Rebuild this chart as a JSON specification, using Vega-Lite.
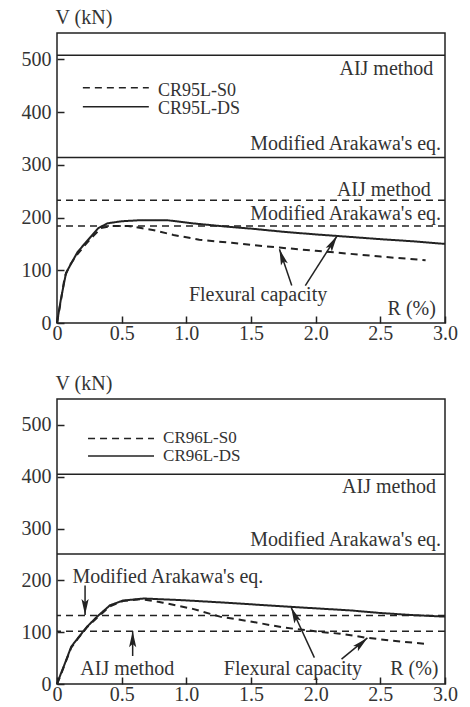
{
  "$schema": "https://vega.github.io/schema/vega-lite/v6.json",
  "background": "white",
  "padding": {"left": 20, "top": 6, "right": 5, "bottom": 2},
  "spacing": 28,
  "datasets": {
    "c1": [
      {"series":"DS","R":0,"V":0},{"series":"DS","R":0.03,"V":45},{"series":"DS","R":0.07,"V":95},{"series":"DS","R":0.11,"V":113},{"series":"DS","R":0.16,"V":135},{"series":"DS","R":0.22,"V":152},{"series":"DS","R":0.27,"V":166},{"series":"DS","R":0.32,"V":180},{"series":"DS","R":0.39,"V":189},{"series":"DS","R":0.5,"V":193},{"series":"DS","R":0.65,"V":195},{"series":"DS","R":0.85,"V":195},{"series":"DS","R":1.05,"V":189},{"series":"DS","R":1.3,"V":183},{"series":"DS","R":1.5,"V":179},{"series":"DS","R":1.75,"V":173},{"series":"DS","R":2.0,"V":168},{"series":"DS","R":2.17,"V":165},{"series":"DS","R":2.5,"V":159},{"series":"DS","R":2.75,"V":155},{"series":"DS","R":3.0,"V":150},
      {"series":"S0","R":0,"V":0},{"series":"S0","R":0.03,"V":42},{"series":"S0","R":0.06,"V":88},{"series":"S0","R":0.1,"V":110},{"series":"S0","R":0.15,"V":128},{"series":"S0","R":0.21,"V":146},{"series":"S0","R":0.28,"V":165},{"series":"S0","R":0.34,"V":180},{"series":"S0","R":0.42,"V":184},{"series":"S0","R":0.55,"V":184},{"series":"S0","R":0.65,"V":180},{"series":"S0","R":0.75,"V":176},{"series":"S0","R":0.9,"V":167},{"series":"S0","R":1.1,"V":158},{"series":"S0","R":1.35,"V":152},{"series":"S0","R":1.5,"V":148},{"series":"S0","R":1.72,"V":143},{"series":"S0","R":2.0,"V":137},{"series":"S0","R":2.14,"V":134},{"series":"S0","R":2.5,"V":126},{"series":"S0","R":2.85,"V":119}
    ],
    "c2": [
      {"series":"DS","R":0,"V":0},{"series":"DS","R":0.03,"V":20},{"series":"DS","R":0.06,"V":39},{"series":"DS","R":0.11,"V":72},{"series":"DS","R":0.16,"V":88},{"series":"DS","R":0.23,"V":110},{"series":"DS","R":0.31,"V":130},{"series":"DS","R":0.41,"V":152},{"series":"DS","R":0.51,"V":161},{"series":"DS","R":0.67,"V":165},{"series":"DS","R":0.95,"V":162},{"series":"DS","R":1.3,"V":157},{"series":"DS","R":1.55,"V":153},{"series":"DS","R":1.8,"V":149},{"series":"DS","R":2.0,"V":146},{"series":"DS","R":2.27,"V":142},{"series":"DS","R":2.5,"V":137},{"series":"DS","R":2.75,"V":133},{"series":"DS","R":3.0,"V":130},
      {"series":"S0","R":0,"V":0},{"series":"S0","R":0.03,"V":18},{"series":"S0","R":0.06,"V":38},{"series":"S0","R":0.11,"V":70},{"series":"S0","R":0.16,"V":87},{"series":"S0","R":0.23,"V":109},{"series":"S0","R":0.31,"V":128},{"series":"S0","R":0.41,"V":150},{"series":"S0","R":0.51,"V":160},{"series":"S0","R":0.65,"V":164},{"series":"S0","R":0.82,"V":157},{"series":"S0","R":1.05,"V":145},{"series":"S0","R":1.26,"V":130},{"series":"S0","R":1.49,"V":121},{"series":"S0","R":1.75,"V":109},{"series":"S0","R":2.06,"V":100},{"series":"S0","R":2.19,"V":97},{"series":"S0","R":2.4,"V":89},{"series":"S0","R":2.58,"V":84},{"series":"S0","R":2.86,"V":77}
    ],
    "h1": [
      {"series":"DS","method":"AIJ method","V":508},
      {"series":"DS","method":"Modified Arakawa's eq.","V":314},
      {"series":"S0","method":"AIJ method","V":233},
      {"series":"S0","method":"Modified Arakawa's eq.","V":184}
    ],
    "h2": [
      {"series":"DS","method":"AIJ method","V":405},
      {"series":"DS","method":"Modified Arakawa's eq.","V":251},
      {"series":"S0","method":"Modified Arakawa's eq.","V":132},
      {"series":"S0","method":"AIJ method","V":102}
    ],
    "k1": [
      {"series":"S0","R":0.2,"V":446},{"series":"S0","R":0.71,"V":446},
      {"series":"DS","R":0.2,"V":410},{"series":"DS","R":0.71,"V":410}
    ],
    "k2": [
      {"series":"S0","R":0.24,"V":474},{"series":"S0","R":0.75,"V":474},
      {"series":"DS","R":0.24,"V":440},{"series":"DS","R":0.75,"V":440}
    ],
    "tr1": [
      {"label":"AIJ method","R":2.91,"V":470},
      {"label":"Modified Arakawa's eq.","R":2.97,"V":329},
      {"label":"AIJ method","R":2.89,"V":241},
      {"label":"Modified Arakawa's eq.","R":2.97,"V":196},
      {"label":"R (%)","R":2.93,"V":15}
    ],
    "tl1": [
      {"label":"Flexural capacity","R":1.02,"V":42}
    ],
    "lg1": [
      {"label":"CR95L-S0","R":0.78,"V":431},
      {"label":"CR95L-DS","R":0.78,"V":396}
    ],
    "tr2": [
      {"label":"AIJ method","R":2.93,"V":368},
      {"label":"Modified Arakawa's eq.","R":2.97,"V":267},
      {"label":"R (%)","R":2.95,"V":18}
    ],
    "tl2": [
      {"label":"Modified Arakawa's eq.","R":0.12,"V":194},
      {"label":"AIJ method","R":0.18,"V":18},
      {"label":"Flexural capacity","R":1.29,"V":18}
    ],
    "lg2": [
      {"label":"CR96L-S0","R":0.82,"V":466},
      {"label":"CR96L-DS","R":0.82,"V":431}
    ],
    "a1": [
      {"R0":1.815,"V0":71,"R1":1.72,"V1":140,"angle":342},
      {"R0":1.92,"V0":71,"R1":2.165,"V1":165,"angle":31}
    ],
    "a2": [
      {"R0":0.217,"V0":190,"R1":0.217,"V1":133,"angle":180},
      {"R0":0.585,"V0":54,"R1":0.585,"V1":102,"angle":0},
      {"R0":1.99,"V0":51,"R1":1.81,"V1":148,"angle":336},
      {"R0":2.2,"V0":48,"R1":2.4,"V1":89,"angle":48}
    ]
  },
  "vconcat": [
    {
      "width": 388,
      "height": 290,
      "layer": [
        {
          "data": {"name": "c1"},
          "mark": {"type": "line", "stroke": "#222", "strokeWidth": 2},
          "encoding": {
            "x": {"field": "R", "type": "quantitative", "scale": {"domain": [0, 3]},
              "axis": {"title": null, "values": [0, 0.5, 1, 1.5, 2, 2.5, 3], "labelFlush": false, "labelPadding": 7, "labelExpr": "datum.value == 0 ? '0' : format(datum.value, '.1f')"}},
            "y": {"field": "V", "type": "quantitative", "scale": {"domain": [0, 517]},
              "axis": {"title": "V (kN)", "values": [0, 100, 200, 300, 400, 500], "titleAngle": 0, "titleAlign": "left", "titleBaseline": "alphabetic", "titleX": -2, "titleY": -10}},
            "strokeDash": {"field": "series", "type": "nominal", "scale": {"domain": ["S0", "DS"], "range": [[7, 5], [1, 0]]}, "legend": null}
          }
        },
        {
          "data": {"name": "h1"},
          "mark": {"type": "rule", "stroke": "#222", "strokeWidth": 1.5},
          "encoding": {
            "y": {"field": "V", "type": "quantitative"},
            "strokeDash": {"field": "series", "type": "nominal", "legend": null}
          }
        },
        {
          "data": {"name": "k1"},
          "mark": {"type": "line", "stroke": "#222", "strokeWidth": 1.5},
          "encoding": {
            "x": {"field": "R", "type": "quantitative"},
            "y": {"field": "V", "type": "quantitative"},
            "strokeDash": {"field": "series", "type": "nominal", "legend": null}
          }
        },
        {
          "data": {"name": "tr1"},
          "mark": {"type": "text", "align": "right", "baseline": "alphabetic"},
          "encoding": {
            "x": {"field": "R", "type": "quantitative"},
            "y": {"field": "V", "type": "quantitative"},
            "text": {"field": "label"}
          }
        },
        {
          "data": {"name": "tl1"},
          "mark": {"type": "text", "align": "left", "baseline": "alphabetic"},
          "encoding": {
            "x": {"field": "R", "type": "quantitative"},
            "y": {"field": "V", "type": "quantitative"},
            "text": {"field": "label"}
          }
        },
        {
          "data": {"name": "lg1"},
          "mark": {"type": "text", "align": "left", "baseline": "alphabetic", "fontSize": 18},
          "encoding": {
            "x": {"field": "R", "type": "quantitative"},
            "y": {"field": "V", "type": "quantitative"},
            "text": {"field": "label"}
          }
        },
        {
          "data": {"name": "a1"},
          "mark": {"type": "rule", "stroke": "#222", "strokeWidth": 1.5},
          "encoding": {
            "x": {"field": "R0", "type": "quantitative"},
            "y": {"field": "V0", "type": "quantitative"},
            "x2": {"field": "R1"},
            "y2": {"field": "V1"}
          }
        },
        {
          "data": {"name": "a1"},
          "mark": {"type": "point", "shape": "M0,0L-0.45,2L0,1.6L0.45,2Z", "filled": true, "size": 256, "fill": "#222", "opacity": 1},
          "encoding": {
            "x": {"field": "R1", "type": "quantitative"},
            "y": {"field": "V1", "type": "quantitative"},
            "angle": {"field": "angle", "type": "quantitative", "scale": null}
          }
        }
      ]
    },
    {
      "width": 388,
      "height": 285,
      "layer": [
        {
          "data": {"name": "c2"},
          "mark": {"type": "line", "stroke": "#222", "strokeWidth": 2},
          "encoding": {
            "x": {"field": "R", "type": "quantitative", "scale": {"domain": [0, 3]},
              "axis": {"title": null, "values": [0, 0.5, 1, 1.5, 2, 2.5, 3], "labelFlush": false, "labelPadding": 7, "labelExpr": "datum.value == 0 ? '0' : format(datum.value, '.1f')"}},
            "y": {"field": "V", "type": "quantitative", "scale": {"domain": [0, 515]},
              "axis": {"title": "V (kN)", "values": [0, 100, 200, 300, 400, 500], "titleAngle": 0, "titleAlign": "left", "titleBaseline": "alphabetic", "titleX": -2, "titleY": -10}},
            "strokeDash": {"field": "series", "type": "nominal", "scale": {"domain": ["S0", "DS"], "range": [[7, 5], [1, 0]]}, "legend": null}
          }
        },
        {
          "data": {"name": "h2"},
          "mark": {"type": "rule", "stroke": "#222", "strokeWidth": 1.5},
          "encoding": {
            "y": {"field": "V", "type": "quantitative"},
            "strokeDash": {"field": "series", "type": "nominal", "legend": null}
          }
        },
        {
          "data": {"name": "k2"},
          "mark": {"type": "line", "stroke": "#222", "strokeWidth": 1.5},
          "encoding": {
            "x": {"field": "R", "type": "quantitative"},
            "y": {"field": "V", "type": "quantitative"},
            "strokeDash": {"field": "series", "type": "nominal", "legend": null}
          }
        },
        {
          "data": {"name": "tr2"},
          "mark": {"type": "text", "align": "right", "baseline": "alphabetic"},
          "encoding": {
            "x": {"field": "R", "type": "quantitative"},
            "y": {"field": "V", "type": "quantitative"},
            "text": {"field": "label"}
          }
        },
        {
          "data": {"name": "tl2"},
          "mark": {"type": "text", "align": "left", "baseline": "alphabetic"},
          "encoding": {
            "x": {"field": "R", "type": "quantitative"},
            "y": {"field": "V", "type": "quantitative"},
            "text": {"field": "label"}
          }
        },
        {
          "data": {"name": "lg2"},
          "mark": {"type": "text", "align": "left", "baseline": "alphabetic", "fontSize": 17},
          "encoding": {
            "x": {"field": "R", "type": "quantitative"},
            "y": {"field": "V", "type": "quantitative"},
            "text": {"field": "label"}
          }
        },
        {
          "data": {"name": "a2"},
          "mark": {"type": "rule", "stroke": "#222", "strokeWidth": 1.5},
          "encoding": {
            "x": {"field": "R0", "type": "quantitative"},
            "y": {"field": "V0", "type": "quantitative"},
            "x2": {"field": "R1"},
            "y2": {"field": "V1"}
          }
        },
        {
          "data": {"name": "a2"},
          "mark": {"type": "point", "shape": "M0,0L-0.45,2L0,1.6L0.45,2Z", "filled": true, "size": 256, "fill": "#222", "opacity": 1},
          "encoding": {
            "x": {"field": "R1", "type": "quantitative"},
            "y": {"field": "V1", "type": "quantitative"},
            "angle": {"field": "angle", "type": "quantitative", "scale": null}
          }
        }
      ]
    }
  ],
  "config": {
    "view": {"stroke": "#222", "strokeWidth": 1.5},
    "axis": {
      "domain": false, "grid": false,
      "tickColor": "#222", "tickSize": -7, "tickWidth": 1.5,
      "labelFont": "Liberation Serif", "labelFontSize": 20, "labelColor": "#333", "labelPadding": 13,
      "titleFont": "Liberation Serif", "titleFontSize": 20, "titleFontWeight": "normal", "titleColor": "#333"
    },
    "text": {"font": "Liberation Serif", "fontSize": 20, "fill": "#333"}
  }
}
